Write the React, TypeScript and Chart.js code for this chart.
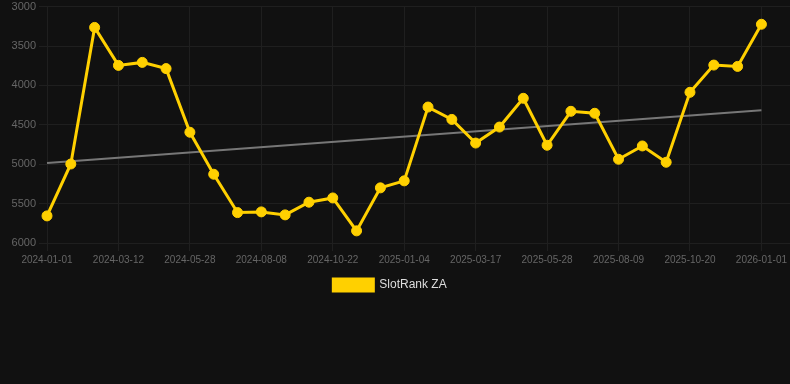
import React, { useEffect, useRef } from "react";
import { Chart, registerables } from "chart.js";

Chart.register(...registerables);

const dateLabels: string[] = [
  "2024-01-01", "2024-01-25", "2024-02-17", "2024-03-12", "2024-04-06", "2024-05-02",
  "2024-05-28", "2024-06-21", "2024-07-15", "2024-08-08", "2024-09-02", "2024-09-27",
  "2024-10-22", "2024-11-15", "2024-12-10", "2025-01-04", "2025-01-28", "2025-02-21",
  "2025-03-17", "2025-04-10", "2025-05-04", "2025-05-28", "2025-06-21", "2025-07-16",
  "2025-08-09", "2025-09-02", "2025-09-26", "2025-10-20", "2025-11-13", "2025-12-08",
  "2026-01-01",
];

const rankValues: number[] = [
  5656, 4997, 3263, 3745, 3707, 3786, 4594, 5127, 5614, 5605,
  5643, 5482, 5428, 5846, 5300, 5211, 4274, 4431, 4731, 4528,
  4163, 4759, 4328, 4353, 4937, 4768, 4975, 4087, 3741, 3758,
  3223,
];

const trendStart = 4984;
const trendEnd = 4316;

const seriesName = "SlotRank ZA";
const yTicks = { min: 3000, max: 6000, step: 500 };
const labelEvery = 3;
const xMax = 31.2;

const FONT = "'Liberation Sans', Arial, Helvetica, sans-serif";

export default function App() {
  const canvasRef = useRef<HTMLCanvasElement | null>(null);

  useEffect(() => {
    document.body.style.margin = "0";
    document.body.style.background = "#111111";
    document.body.style.overflow = "hidden";
    const canvas = canvasRef.current;
    if (!canvas) return;
    const last = dateLabels.length - 1;
    const mainData = rankValues.map((v, i) => ({ x: i, y: v }));
    const trendData = [
      { x: 0, y: trendStart },
      { x: last, y: trendEnd },
    ];
    const chart = new Chart(canvas, {
      type: "line",
      data: {
        datasets: [
          {
            label: seriesName,
            data: mainData,
            borderColor: "#FFD000",
            backgroundColor: "#FFD000",
            borderWidth: 3,
            pointRadius: 5,
            pointHoverRadius: 5,
            pointBorderWidth: 1,
            pointBackgroundColor: "#FFD000",
            pointBorderColor: "#FFD000",
            tension: 0,
            clip: false,
          },
          {
            label: "trend",
            data: trendData,
            borderColor: "#777777",
            backgroundColor: "#777777",
            borderWidth: 2,
            pointRadius: 0,
            tension: 0,
            clip: false,
          },
        ],
      },
      options: {
        animation: false,
        responsive: false,
        maintainAspectRatio: false,
        layout: { autoPadding: false },
        plugins: {
          tooltip: { enabled: false },
          legend: {
            position: "bottom",
            labels: {
              color: "#dddddd",
              font: { family: FONT, size: 12 },
              boxWidth: 40,
              boxHeight: 12,
              filter: (item) => item.text === seriesName,
            },
          },
        },
        scales: {
          x: {
            type: "linear",
            min: 0,
            max: xMax,
            grid: { color: "#1f1f1f" },
            border: { color: "#1f1f1f" },
            afterBuildTicks: (axis) => {
              axis.ticks = dateLabels
                .map((_, i) => ({ value: i }))
                .filter((t) => t.value % labelEvery === 0);
            },
            afterFit: (axis) => {
              axis.paddingRight = 0;
              axis.paddingLeft = 0;
            },
            ticks: {
              color: "#666666",
              autoSkip: false,
              maxRotation: 0,
              font: { family: FONT, size: 10 },
              callback: (v) => dateLabels[Number(v)] ?? "",
            },
          },
          y: {
            reverse: true,
            min: yTicks.min,
            max: yTicks.max,
            grid: { color: "#1f1f1f" },
            border: { color: "#1f1f1f" },
            afterFit: (axis) => {
              axis.width = 57;
              axis.paddingTop = 6.7;
            },
            ticks: {
              stepSize: yTicks.step,
              color: "#666666",
              font: { family: FONT, size: 11 },
              callback: (v) => String(v),
            },
          },
        },
      },
    });
    return () => chart.destroy();
  }, []);

  return (
    <div style={{ width: 790, height: 384, background: "#111111", overflow: "hidden" }}>
      <canvas
        ref={canvasRef}
        width={800}
        height={301}
        style={{ display: "block", marginLeft: -10 }}
      />
    </div>
  );
}
